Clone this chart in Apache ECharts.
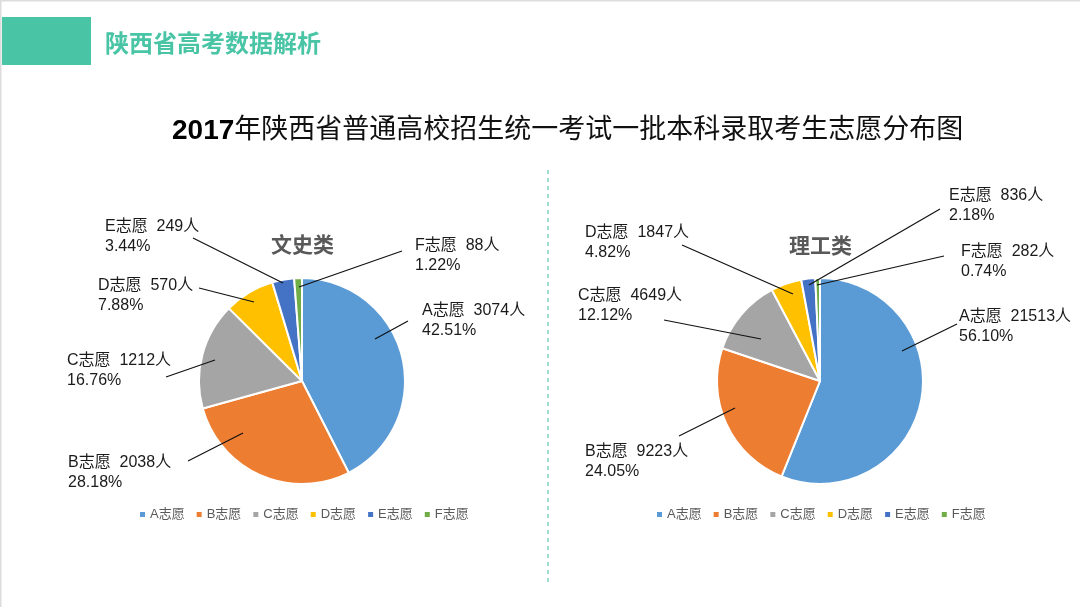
<!DOCTYPE html>
<html>
<head>
<meta charset="utf-8">
<style>
html, body { margin: 0; padding: 0; background: #fff; }
#main { width: 1080px; height: 607px; }
</style>
<script src="https://cdn.jsdelivr.net/npm/echarts@6/dist/echarts.min.js"></script>
</head>
<body>
<div id="main"></div>
<script>
var categories = ['A志愿', 'B志愿', 'C志愿', 'D志愿', 'E志愿', 'F志愿'];
var wenshiValues = [3074, 2038, 1212, 570, 249, 88];
var ligongValues = [21513, 9223, 4649, 1847, 836, 282];
var wenshiPercents = ['42.51%', '28.18%', '16.76%', '7.88%', '3.44%', '1.22%'];
var ligongPercents = ['56.10%', '24.05%', '12.12%', '4.82%', '2.18%', '0.74%'];
var colors = ['#5b9bd5', '#ed7d31', '#a5a5a5', '#ffc000', '#4472c4', '#70ad47'];

// label top-left and leader line ends
var wenshiLabels = [
    { x: 422, y: 301, line: [[375, 339], [408, 321]] },
    { x: 68, y: 453, line: [[243, 433], [188, 461]] },
    { x: 67, y: 351, line: [[215, 360], [166, 377]] },
    { x: 98, y: 276, line: [[254, 302], [199, 288]] },
    { x: 105, y: 217, line: [[283, 283], [193, 238]] },
    { x: 415, y: 236, line: [[299, 287], [402, 251]] }
];
var ligongLabels = [
    { x: 959, y: 307, line: [[902, 351], [957, 324]] },
    { x: 585, y: 442, line: [[735, 408], [679, 436]] },
    { x: 578, y: 286, line: [[761, 339], [664, 320]] },
    { x: 585, y: 223, line: [[793, 294], [682, 245]] },
    { x: 949, y: 186, line: [[809, 285], [940, 209]] },
    { x: 961, y: 242, line: [[817, 285], [944, 256]] }
];

var myChart = echarts.init(document.getElementById('main'));
var fontFamily = '"Liberation Sans", "Noto Sans CJK SC", sans-serif';

function pieData(values) {
    return categories.map(function (c, i) {
        return { name: c, value: values[i] };
    });
}

function makePie(values, center) {
    return {
        type: 'pie',
        z: 2,
        center: center,
        radius: [0, 103],
        startAngle: 90,
        animation: false,
        itemStyle: { borderColor: '#fff', borderWidth: 2 },
        label: { show: false },
        labelLine: { show: false },
        data: pieData(values)
    };
}

// same pie again with no fill, so the leader lines sit on top of the slices
function makeLabelPie(values, percents, labels, center) {
    return {
        type: 'pie',
        z: 3,
        silent: true,
        center: center,
        radius: [0, 103],
        startAngle: 90,
        animation: false,
        itemStyle: { color: 'rgba(0,0,0,0)', borderWidth: 0 },
        emphasis: { disabled: true },
        data: pieData(values),
        label: {
            color: '#1a1a1a',
            fontFamily: fontFamily,
            fontSize: 16,
            lineHeight: 20,
            align: 'left',
            overflow: 'none',
            formatter: function (p) {
                return p.name + '  ' + p.value + '人\n' + percents[p.dataIndex];
            }
        },
        labelLine: { show: true, lineStyle: { color: '#111', width: 1.2 } },
        labelLayout: function (p) {
            var l = labels[p.dataIndex];
            var a = l.line[0], b = l.line[1];
            return {
                x: l.x,
                y: l.y,
                align: 'left',
                verticalAlign: 'top',
                labelLinePoints: [a, [(a[0] + b[0]) / 2, (a[1] + b[1]) / 2], b]
            };
        }
    };
}

function makeLegend(left) {
    return {
        left: left,
        top: 503,
        data: categories,
        icon: 'rect',
        itemWidth: 7,
        itemHeight: 7,
        itemGap: 10,
        selectedMode: false,
        textStyle: { color: '#595959', fontSize: 13, fontFamily: fontFamily, padding: [0, 0, 0, -1] }
    };
}

var option = {
    backgroundColor: '#fff',
    color: colors,
    textStyle: { fontFamily: fontFamily },
    title: [
        {
            text: '陕西省高考数据解析',
            left: 100,
            top: 28,
            textStyle: { color: '#49c5a6', fontSize: 24, fontWeight: 'bold', fontFamily: fontFamily }
        },
        {
            text: '{y|2017}{t|年陕西省普通高校招生统一考试一批本科录取考生志愿分布图}',
            left: 167,
            top: 112,
            textStyle: {
                rich: {
                    y: { color: '#000', fontSize: 28, fontWeight: 'bold', fontFamily: fontFamily },
                    t: { color: '#111', fontSize: 27, fontWeight: 'normal', fontFamily: fontFamily }
                }
            }
        },
        {
            text: '文史类',
            left: 266,
            top: 231,
            textStyle: { color: '#595959', fontSize: 21, fontWeight: 'bold', fontFamily: fontFamily }
        },
        {
            text: '理工类',
            left: 784,
            top: 232,
            textStyle: { color: '#595959', fontSize: 21, fontWeight: 'bold', fontFamily: fontFamily }
        }
    ],
    legend: [makeLegend(133), makeLegend(650)],
    graphic: [
        { type: 'rect', shape: { x: 0, y: 0, width: 1080, height: 1.5 }, style: { fill: '#dcdcdc' } },
        { type: 'rect', shape: { x: 0, y: 0, width: 1.5, height: 607 }, style: { fill: '#dcdcdc' } },
        { type: 'rect', shape: { x: 2, y: 17, width: 89, height: 48 }, style: { fill: '#49c5a6' } },
        {
            type: 'line',
            shape: { x1: 548, y1: 170, x2: 548, y2: 585 },
            style: { stroke: '#7fd6c0', lineWidth: 1.5, lineDash: [4, 4] }
        }
    ],
    series: [
        makePie(wenshiValues, [302, 381]),
        makePie(ligongValues, [820, 381]),
        makeLabelPie(wenshiValues, wenshiPercents, wenshiLabels, [302, 381]),
        makeLabelPie(ligongValues, ligongPercents, ligongLabels, [820, 381])
    ]
};

myChart.setOption(option);
</script>
</body>
</html>
